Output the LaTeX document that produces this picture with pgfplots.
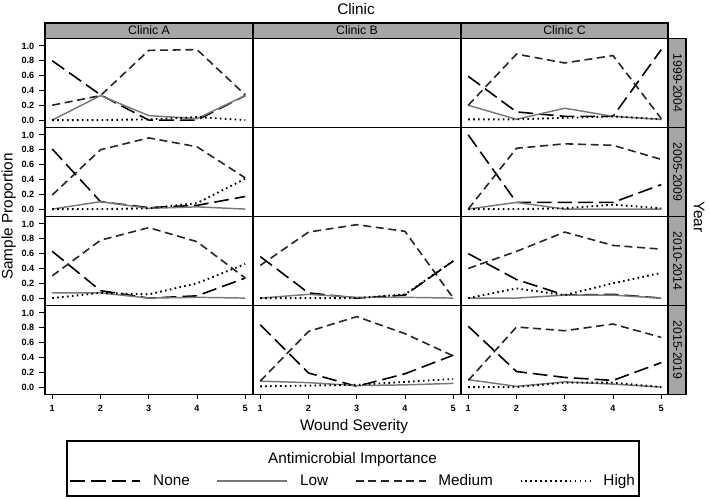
\documentclass[border=0pt]{standalone}
\usepackage{pgfplots}
\pgfplotsset{compat=1.18}
\usepackage{fontspec}
\setmainfont{Liberation Sans}
\definecolor{strip}{RGB}{166,166,166}
\definecolor{lowgray}{RGB}{120,120,120}
\newcommand{\bigf}{\fontsize{11.5}{13.8}\selectfont}
\newcommand{\stripf}{\fontsize{9.2}{11}\selectfont}
\newcommand{\tickf}{\bfseries\fontsize{6.8}{8}\selectfont}

\pgfplotsset{
 nonestyle/.style={black, line width=1.2pt, dash pattern=on 11pt off 4.5pt},
 lowstyle/.style={lowgray, line width=1.1pt, solid},
 medstyle/.style={black!85, line width=1.2pt, dash pattern=on 6pt off 3.5pt},
 highstyle/.style={black, line width=1.4pt, dash pattern=on 1.2pt off 2.5pt},
 panel/.style={scale only axis, width=155.625pt, height=66.75pt, anchor=south west,
   xmin=0.85, xmax=5.15, ymin=-0.1, ymax=1.1, xtick=\empty, ytick=\empty,
   axis line style={line width=1pt}, tick align=outside,
   tick style={black, line width=0.7pt},
   every axis plot/.append style={no markers, sharp plot}},
 leftcol/.style={ytick={0,0.2,0.4,0.6,0.8,1}, ytick pos=left, major tick length=4.5pt,
   yticklabel style={font=\tickf, /pgf/number format/.cd, fixed, fixed zerofill, precision=1, assume math mode=true}},
 bottomrow/.style={xtick={1,2,3,4,5}, xtick pos=bottom,
   xtick style={/pgfplots/major tick length=3.5pt},
   xticklabel style={font=\tickf, /pgf/number format/assume math mode=true}},
}

\begin{document}
\begin{tikzpicture}
\begin{scope}[x=0.75pt,y=-0.75pt]
\useasboundingbox (0,0) rectangle (709,499);
\end{scope}

% ---------- Clinic A ----------
\begin{axis}[panel, leftcol, at={(33.75pt,-95.625pt)}]
\addplot[nonestyle] coordinates {(1,0.80)(2,0.34)(3,0.0)(4,0.0)(5,0.33)};
\addplot[lowstyle] coordinates {(1,0.0)(2,0.33)(3,0.06)(4,0.02)(5,0.33)};
\addplot[medstyle] coordinates {(1,0.20)(2,0.33)(3,0.94)(4,0.95)(5,0.34)};
\addplot[highstyle] coordinates {(1,0.0)(2,0.0)(3,0.01)(4,0.04)(5,0.0)};
\end{axis}
\begin{axis}[panel, leftcol, at={(33.75pt,-162.375pt)}]
\addplot[nonestyle] coordinates {(1,0.81)(2,0.10)(3,0.02)(4,0.05)(5,0.17)};
\addplot[lowstyle] coordinates {(1,0.0)(2,0.10)(3,0.01)(4,0.03)(5,0.0)};
\addplot[medstyle] coordinates {(1,0.19)(2,0.80)(3,0.96)(4,0.84)(5,0.42)};
\addplot[highstyle] coordinates {(1,0.0)(2,0.0)(3,0.01)(4,0.08)(5,0.41)};
\end{axis}
\begin{axis}[panel, leftcol, at={(33.75pt,-229.125pt)}]
\addplot[nonestyle] coordinates {(1,0.63)(2,0.10)(3,0.0)(4,0.03)(5,0.27)};
\addplot[lowstyle] coordinates {(1,0.07)(2,0.07)(3,0.0)(4,0.01)(5,0.0)};
\addplot[medstyle] coordinates {(1,0.30)(2,0.78)(3,0.95)(4,0.76)(5,0.27)};
\addplot[highstyle] coordinates {(1,0.0)(2,0.07)(3,0.05)(4,0.20)(5,0.46)};
\end{axis}
\begin{axis}[panel, leftcol, bottomrow, at={(33.75pt,-295.875pt)}]
\end{axis}

% ---------- Clinic B ----------
\begin{axis}[panel, at={(189.75pt,-95.625pt)}]
\end{axis}
\begin{axis}[panel, at={(189.75pt,-162.375pt)}]
\end{axis}
\begin{axis}[panel, at={(189.75pt,-229.125pt)}]
\addplot[nonestyle] coordinates {(1,0.56)(2,0.07)(3,0.0)(4,0.04)(5,0.50)};
\addplot[lowstyle] coordinates {(1,0.0)(2,0.05)(3,0.01)(4,0.01)(5,0.0)};
\addplot[medstyle] coordinates {(1,0.44)(2,0.89)(3,0.99)(4,0.90)(5,0.0)};
\addplot[highstyle] coordinates {(1,0.0)(2,0.0)(3,0.0)(4,0.05)(5,0.50)};
\end{axis}
\begin{axis}[panel, bottomrow, at={(189.75pt,-295.875pt)},
  legend style={at={(0.4819,-0.972)}, anchor=center, draw=none, fill=none,
    legend columns=4, font=\bigf,
    /tikz/every odd column/.append style={column sep=8pt},
    /tikz/every even column/.append style={column sep=19pt},
    nodes={inner sep=1pt}},
  legend image code/.code={\draw[#1] (0pt,0pt) -- (52.5pt,0pt);}]
\addplot[nonestyle] coordinates {(1,0.84)(2,0.19)(3,0.01)(4,0.18)(5,0.43)};
\addlegendentry{None}
\addplot[lowstyle] coordinates {(1,0.08)(2,0.06)(3,0.02)(4,0.03)(5,0.05)};
\addlegendentry{Low}
\addplot[medstyle] coordinates {(1,0.08)(2,0.75)(3,0.95)(4,0.72)(5,0.42)};
\addlegendentry{Medium}
\addplot[highstyle] coordinates {(1,0.01)(2,0.02)(3,0.03)(4,0.07)(5,0.11)};
\addlegendentry{High}
\end{axis}

% ---------- Clinic C ----------
\begin{axis}[panel, at={(345.75pt,-95.625pt)}]
\addplot[nonestyle] coordinates {(1,0.59)(2,0.11)(3,0.05)(4,0.05)(5,0.95)};
\addplot[lowstyle] coordinates {(1,0.20)(2,0.01)(3,0.16)(4,0.05)(5,0.01)};
\addplot[medstyle] coordinates {(1,0.20)(2,0.89)(3,0.77)(4,0.87)(5,0.02)};
\addplot[highstyle] coordinates {(1,0.01)(2,0.01)(3,0.03)(4,0.05)(5,0.01)};
\end{axis}
\begin{axis}[panel, at={(345.75pt,-162.375pt)}]
\addplot[nonestyle] coordinates {(1,1.0)(2,0.09)(3,0.09)(4,0.09)(5,0.33)};
\addplot[lowstyle] coordinates {(1,0.0)(2,0.09)(3,0.0)(4,0.0)(5,0.0)};
\addplot[medstyle] coordinates {(1,0.0)(2,0.82)(3,0.88)(4,0.86)(5,0.67)};
\addplot[highstyle] coordinates {(1,0.0)(2,0.0)(3,0.01)(4,0.06)(5,0.01)};
\end{axis}
\begin{axis}[panel, at={(345.75pt,-229.125pt)}]
\addplot[nonestyle] coordinates {(1,0.60)(2,0.25)(3,0.04)(4,0.05)(5,0.0)};
\addplot[lowstyle] coordinates {(1,0.0)(2,0.0)(3,0.04)(4,0.04)(5,0.0)};
\addplot[medstyle] coordinates {(1,0.40)(2,0.63)(3,0.89)(4,0.71)(5,0.66)};
\addplot[highstyle] coordinates {(1,0.0)(2,0.13)(3,0.04)(4,0.20)(5,0.34)};
\end{axis}
\begin{axis}[panel, bottomrow, at={(345.75pt,-295.875pt)}]
\addplot[nonestyle] coordinates {(1,0.82)(2,0.21)(3,0.13)(4,0.09)(5,0.33)};
\addplot[lowstyle] coordinates {(1,0.10)(2,0.01)(3,0.07)(4,0.04)(5,0.0)};
\addplot[medstyle] coordinates {(1,0.09)(2,0.81)(3,0.76)(4,0.85)(5,0.67)};
\addplot[highstyle] coordinates {(1,0.0)(2,0.0)(3,0.06)(4,0.06)(5,0.0)};
\end{axis}

% ---------- strips, titles, legend frame ----------
\begin{scope}[x=0.75pt,y=-0.75pt]
\foreach \L/\R/\t in {45/253/Clinic A, 253/461/Clinic B, 461/668/Clinic C}{
  \draw[fill=strip, line width=1pt] (\L,23) rectangle (\R,38.5);
  \node[anchor=base, font=\stripf, inner sep=0pt] at ({(\L+\R)/2},34.3) {\t};
}
\foreach \T/\B/\t in {38.5/127.5/1999-2004, 127.5/216.5/2005-2009, 216.5/305.5/2010-2014, 305.5/394.5/2015-2019}{
  \draw[fill=strip, line width=1pt] (668,\T) rectangle (686,\B);
  \node[rotate=-90, font=\stripf, inner sep=0pt] at (677.5,{(\T+\B)/2}) {\t};
}
\node[anchor=base, font=\bigf, inner sep=0pt] at (356,15) {Clinic};
\node[rotate=-90, font=\bigf, inner sep=0pt] at (699,217) {Year};
\node[rotate=90, anchor=base, font=\bigf, inner sep=0pt] at (12.7,216.5) {Sample Proportion};
\node[anchor=base, font=\bigf, inner sep=0pt] at (354,430) {Wound Severity};
\draw[line width=1pt] (67,441) rectangle (639,496);
\node[anchor=base, font=\bigf, inner sep=0pt] at (352.5,463) {Antimicrobial Importance};
\end{scope}
\end{tikzpicture}
\end{document}
